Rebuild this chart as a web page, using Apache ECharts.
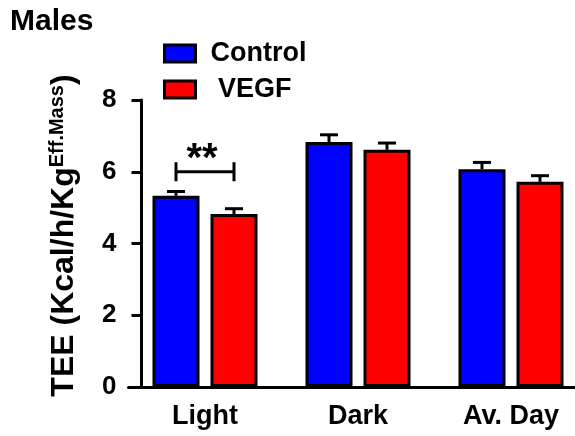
<!DOCTYPE html>
<html>
<head>
<meta charset="utf-8">
<script src="https://cdn.jsdelivr.net/npm/echarts@6/dist/echarts.min.js"></script>
<style>
  html, body { margin: 0; padding: 0; background: #fff; overflow: hidden; }
  /* canvas runs a little past the right edge so the last group keeps full spacing */
  #chart { width: 600px; height: 436px; }
</style>
</head>
<body>
<div id="chart"></div>
<script>
// Total energy expenditure per phase, males
const categories = ['Light', 'Dark', 'Av. Day'];
const controlMean = [5.33, 6.83, 6.07];
const controlSem  = [0.12, 0.20, 0.19];
const vegfMean    = [4.82, 6.61, 5.72];
const vegfSem     = [0.15, 0.19, 0.17];
const yTicks = [0, 2, 4, 6, 8];

// Significance bracket: Light, Control vs VEGF, drawn at y = 6
const sigCategory = 0;
const sigLevel = 6;
const sigLabel = '**';

const FONT = 'Liberation Sans, Arial, Helvetica, sans-serif';
const BAR_W = 47;
const BAR_GAP = 11;
const HALF_STEP = (BAR_W + BAR_GAP) / 2;

const chart = echarts.init(document.getElementById('chart'), null, { renderer: 'canvas' });

function errorSeries(means, sems, dir) {
  return {
    type: 'custom',
    z: 5,
    silent: true,
    data: means.map((m, i) => [i, m, sems[i]]),
    renderItem(params, api) {
      const base = api.coord([api.value(0), api.value(1)]);
      const top = api.coord([api.value(0), api.value(1) + api.value(2)]);
      const x = base[0] + dir * HALF_STEP;
      const style = { stroke: '#000', lineWidth: 3 };
      return {
        type: 'group',
        children: [
          { type: 'line', shape: { x1: x, y1: base[1], x2: x, y2: top[1] }, style },
          { type: 'line', shape: { x1: x - 9, y1: top[1], x2: x + 9, y2: top[1] }, style }
        ]
      };
    }
  };
}

const option = {
  animation: false,
  backgroundColor: '#fff',
  title: {
    text: 'Males',
    left: 5,
    top: 2,
    textStyle: { fontFamily: FONT, fontWeight: 'bold', fontSize: 30, color: '#000' }
  },
  legend: {
    orient: 'vertical',
    left: 163,
    top: 40,
    padding: 0,
    itemWidth: 31,
    itemHeight: 17,
    itemGap: 9,
    icon: 'rect',
    data: ['Control', 'VEGF'],
    itemStyle: { borderColor: '#000', borderWidth: 3 },
    formatter: name => (name === 'VEGF' ? ' ' + name : name),
    textStyle: { fontFamily: FONT, fontWeight: 'bold', fontSize: 27, color: '#000', padding: [0, 0, 0, 10] }
  },
  grid: { left: 128.5, top: 100, width: 459, bottom: 49, containLabel: false },
  xAxis: {
    type: 'category',
    data: categories,
    axisLine: { lineStyle: { color: '#000', width: 3 } },
    axisTick: { show: false },
    axisLabel: { fontFamily: FONT, fontWeight: 'bold', fontSize: 27, color: '#000', margin: 16 }
  },
  yAxis: {
    type: 'value',
    min: 0,
    max: 8,
    interval: 2,
    offset: -13,
    axisLine: { show: true, lineStyle: { color: '#000', width: 3 } },
    axisTick: { show: true, length: 10, lineStyle: { color: '#000', width: 3 } },
    splitLine: { show: false },
    axisLabel: {
      fontFamily: FONT, fontWeight: 'bold', fontSize: 26, color: '#000', margin: 25,
      formatter: v => (yTicks.indexOf(v) >= 0 ? String(v) : '')
    },
    name: '{m|TEE (Kcal/h/Kg}{s|Eff.Mass}{m|)}',
    nameLocation: 'middle',
    nameRotate: 90,
    nameGap: 60,
    nameTextStyle: {
      color: '#000',
      padding: [0, 0, 0, 16],
      rich: {
        m: { fontFamily: FONT, fontWeight: 'bold', fontSize: 32, color: '#000', lineHeight: 34 },
        s: { fontFamily: FONT, fontWeight: 'bold', fontSize: 20, color: '#000', verticalAlign: 'top', lineHeight: 34 }
      }
    }
  },
  series: [
    {
      name: 'Control',
      type: 'bar',
      barWidth: BAR_W,
      barGap: (BAR_GAP / BAR_W * 100) + '%',
      data: controlMean,
      itemStyle: { color: '#0000ff', borderColor: '#000', borderWidth: 3 }
    },
    {
      name: 'VEGF',
      type: 'bar',
      barWidth: BAR_W,
      data: vegfMean,
      itemStyle: { color: '#ff0000', borderColor: '#000', borderWidth: 3 }
    },
    errorSeries(controlMean, controlSem, -1),
    errorSeries(vegfMean, vegfSem, 1),
    {
      type: 'custom',
      z: 6,
      silent: true,
      data: [[sigCategory, sigLevel]],
      renderItem(params, api) {
        const p = api.coord([api.value(0), api.value(1)]);
        const x1 = p[0] - HALF_STEP, x2 = p[0] + HALF_STEP, y = p[1];
        const style = { stroke: '#000', lineWidth: 3 };
        return {
          type: 'group',
          children: [
            { type: 'line', shape: { x1, y1: y, x2, y2: y }, style },
            { type: 'line', shape: { x1, y1: y - 9.5, x2: x1, y2: y + 9.5 }, style },
            { type: 'line', shape: { x1: x2, y1: y - 9.5, x2, y2: y + 9.5 }, style },
            {
              type: 'text',
              x: p[0] - 3,
              y: y - 12,
              style: {
                text: sigLabel, fill: '#000', font: 'bold 40px ' + FONT,
                align: 'center', verticalAlign: 'middle'
              }
            }
          ]
        };
      }
    }
  ]
};

chart.setOption(option);
</script>
</body>
</html>
